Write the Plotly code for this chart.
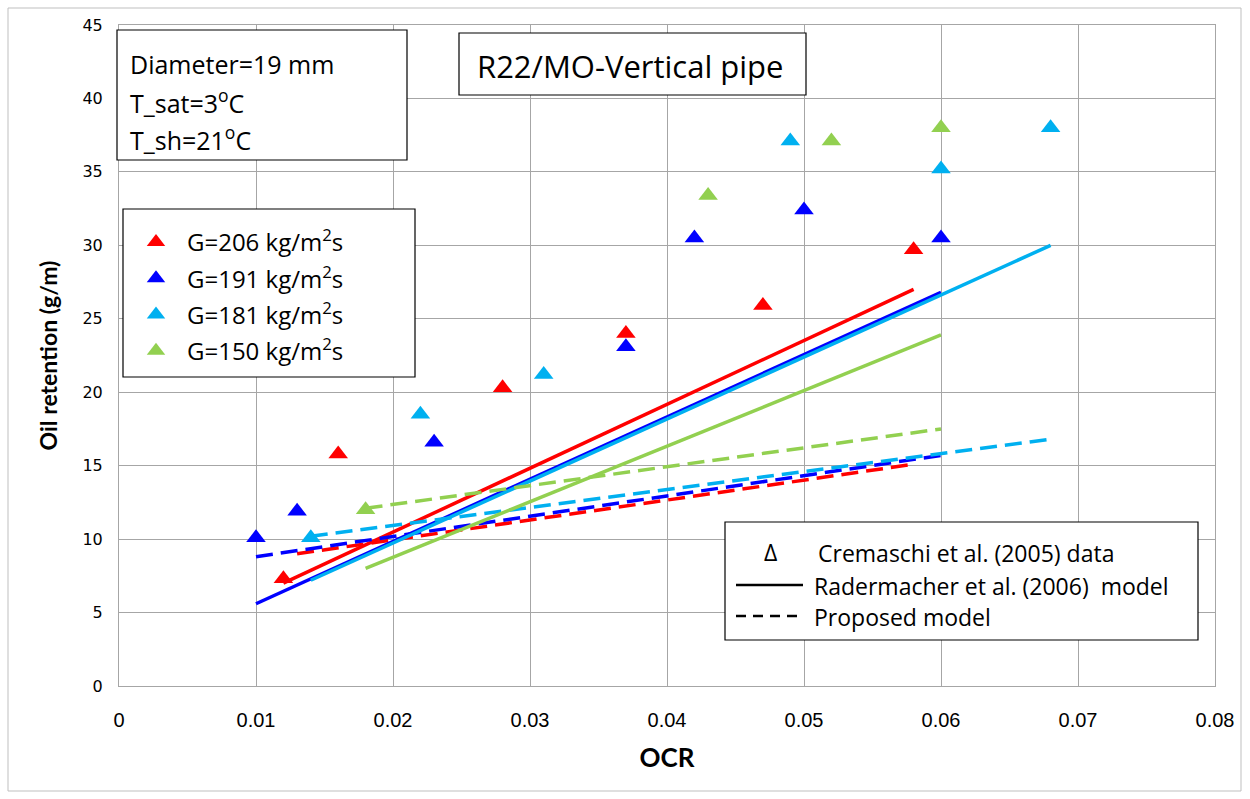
import plotly.graph_objects as go

# ---- data ----
series_names = ["G=206 kg/m<sup>2</sup>s", "G=191 kg/m<sup>2</sup>s",
                "G=181 kg/m<sup>2</sup>s", "G=150 kg/m<sup>2</sup>s"]
colors = ["#ff0000", "#0000ff", "#00b0f0", "#92d050"]

data_x = [
    [0.012, 0.016, 0.028, 0.037, 0.047, 0.058],
    [0.010, 0.013, 0.023, 0.037, 0.042, 0.050, 0.060],
    [0.014, 0.022, 0.031, 0.049, 0.060, 0.068],
    [0.018, 0.043, 0.052, 0.060],
]
data_y = [
    [7.3, 15.8, 20.3, 24.0, 25.9, 29.7],
    [10.1, 11.9, 16.6, 23.1, 30.5, 32.4, 30.5],
    [10.1, 18.5, 21.2, 37.1, 35.2, 38.0],
    [12.0, 33.4, 37.1, 38.0],
]

# Radermacher et al. (2006) model (solid)
rad_x = [[0.012, 0.058], [0.010, 0.060], [0.014, 0.068], [0.018, 0.060]]
rad_y = [[7.0, 27.0], [5.6, 26.8], [7.2, 30.0], [8.0, 23.9]]

# Proposed model (dashed)
prop_x = [[0.013, 0.058], [0.010, 0.060], [0.014, 0.068], [0.018, 0.060]]
prop_y = [[9.0, 15.1], [8.8, 15.7], [10.2, 16.8], [12.1, 17.5]]

x_ticks = [0, 0.01, 0.02, 0.03, 0.04, 0.05, 0.06, 0.07, 0.08]
x_ticklabels = ["0", "0.01", "0.02", "0.03", "0.04", "0.05", "0.06", "0.07", "0.08"]
y_ticks = [0, 5, 10, 15, 20, 25, 30, 35, 40, 45]

W, H = 1250, 799
L, R, T, B = 119, 35, 25, 113
PW, PH = W - L - R, H - T - B

def px(x):
    return (x - L) / PW

def py(y):
    return (H - B - y) / PH

FONT = "Open Sans"

fig = go.Figure()

for i in range(4):
    fig.add_trace(go.Scatter(x=rad_x[i], y=rad_y[i], mode="lines",
                             line=dict(color=colors[i], width=3.5),
                             showlegend=False, hoverinfo="skip"))
    fig.add_trace(go.Scatter(x=prop_x[i], y=prop_y[i], mode="lines",
                             line=dict(color=colors[i], width=3.5, dash="17px,8px"),
                             showlegend=False, hoverinfo="skip"))
for i in range(4):
    fig.add_trace(go.Scatter(x=data_x[i], y=data_y[i], mode="markers",
                             name=series_names[i], legendgroup=str(i),
                             marker=dict(symbol="triangle-up", size=17, color=colors[i],
                                         line=dict(width=0))))

shapes = []
annotations = []

# outer border
shapes.append(dict(type="rect", xref="paper", yref="paper",
                   x0=px(8), x1=px(1241), y0=py(791), y1=py(8),
                   line=dict(color="#bfbfbf", width=1), layer="below"))

# info box
shapes.append(dict(type="rect", xref="paper", yref="paper",
                   x0=px(117), x1=px(407), y0=py(160), y1=py(30),
                   line=dict(color="black", width=1.2), fillcolor="white"))
for txt, yy in [("Diameter=19 mm", 64), ("T_sat=3<sup>o</sup>C", 101), ("T_sh=21<sup>o</sup>C", 138)]:
    annotations.append(dict(xref="paper", yref="paper", x=px(128), y=py(yy),
                            xanchor="left", yanchor="middle", showarrow=False,
                            text=txt, font=dict(family=FONT, size=25, color="black")))

# title box
shapes.append(dict(type="rect", xref="paper", yref="paper",
                   x0=px(459), x1=px(806), y0=py(95), y1=py(33),
                   line=dict(color="black", width=1.2), fillcolor="white"))
annotations.append(dict(xref="paper", yref="paper", x=px(630), y=py(66),
                        xanchor="center", yanchor="middle", showarrow=False,
                        text="R22/MO-Vertical pipe",
                        font=dict(family=FONT, size=31, color="black")))

# series legend box (drawn behind the plotly legend)
shapes.append(dict(type="rect", xref="paper", yref="paper",
                   x0=px(123), x1=px(415), y0=py(377), y1=py(209),
                   line=dict(color="black", width=1.2), fillcolor="white"))

# model legend box
shapes.append(dict(type="rect", xref="paper", yref="paper",
                   x0=px(725), x1=px(1198), y0=py(640), y1=py(522),
                   line=dict(color="black", width=1.2), fillcolor="white"))
annotations.append(dict(xref="paper", yref="paper", x=px(770), y=py(552),
                        xanchor="center", yanchor="middle", showarrow=False,
                        text="Δ", font=dict(family=FONT, size=23, color="black")))
annotations.append(dict(xref="paper", yref="paper", x=px(816), y=py(553),
                        xanchor="left", yanchor="middle", showarrow=False,
                        text="Cremaschi et al. (2005) data",
                        font=dict(family=FONT, size=23, color="black")))
annotations.append(dict(xref="paper", yref="paper", x=px(812), y=py(586),
                        xanchor="left", yanchor="middle", showarrow=False,
                        text="Radermacher et al. (2006)  model",
                        font=dict(family=FONT, size=23, color="black")))
annotations.append(dict(xref="paper", yref="paper", x=px(812), y=py(617),
                        xanchor="left", yanchor="middle", showarrow=False,
                        text="Proposed model",
                        font=dict(family=FONT, size=23, color="black")))
shapes.append(dict(type="line", xref="paper", yref="paper",
                   x0=px(736), x1=px(803), y0=py(585), y1=py(585),
                   line=dict(color="black", width=2.5)))
shapes.append(dict(type="line", xref="paper", yref="paper",
                   x0=px(736), x1=px(803), y0=py(616), y1=py(616),
                   line=dict(color="black", width=2.5, dash="10px,7px")))

fig.update_layout(
    width=W, height=H,
    margin=dict(l=L, r=R, t=T, b=B),
    paper_bgcolor="white", plot_bgcolor="white",
    font=dict(family=FONT, color="black"),
    shapes=shapes, annotations=annotations,
    showlegend=True,
    legend=dict(x=px(125), y=py(220), xanchor="left", yanchor="top",
                bgcolor="rgba(0,0,0,0)", borderwidth=0,
                font=dict(family=FONT, size=24, color="black"),
                tracegroupgap=2, itemwidth=52),
    xaxis=dict(range=[0, 0.08], tickvals=x_ticks, ticktext=x_ticklabels,
               showgrid=True, gridcolor="#a6a6a6", gridwidth=1,
               showline=True, linecolor="#a6a6a6", mirror=True,
               zeroline=False, ticks="", ticklen=0, ticklabelstandoff=16,
               tickfont=dict(family="Liberation Sans Narrow, Liberation Sans", size=20),
               title=dict(text="<b>OCR</b>", font=dict(family="Lato", size=26), standoff=18)),
    yaxis=dict(range=[0, 45], tickvals=y_ticks,
               showgrid=True, gridcolor="#a6a6a6", gridwidth=1,
               showline=True, linecolor="#a6a6a6", mirror=True,
               zeroline=False, ticks="", ticklen=0, ticklabelstandoff=12,
               tickfont=dict(family="DejaVu Sans", size=16),
               title=dict(text="<b>Oil retention (g/m)</b>", font=dict(family="Lato", size=23), standoff=18)),
)

fig.write_html("out.html")
